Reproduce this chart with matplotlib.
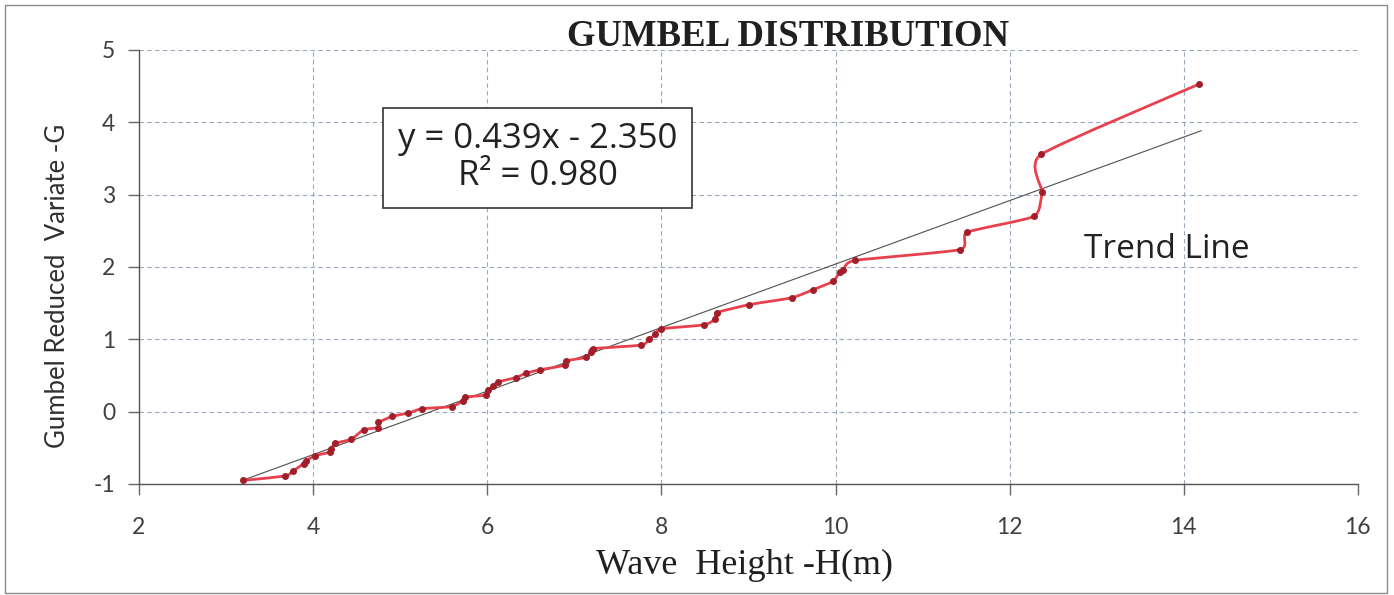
import numpy as np
import matplotlib
matplotlib.use("Agg")
import matplotlib.pyplot as plt
from matplotlib.path import Path
from matplotlib.patches import PathPatch, Rectangle

plt.rcParams["axes.unicode_minus"] = False

# wave heights (m) against Gumbel reduced variate
wave_height = [3.20, 3.68, 3.77, 3.89, 3.92, 4.02, 4.19, 4.21, 4.25, 4.44,
               4.58, 4.75, 4.75, 4.91, 5.09, 5.25, 5.59, 5.72, 5.74, 5.99,
               6.01, 6.07, 6.12, 6.33, 6.44, 6.61, 6.89, 6.90, 7.13, 7.19,
               7.21, 7.77, 7.86, 7.93, 8.00, 8.49, 8.62, 8.64, 9.01, 9.50,
               9.74, 9.97, 10.05, 10.09, 10.22, 11.43, 11.51, 12.28, 12.37,
               12.36, 14.18]
reduced_variate = [-0.95, -0.89, -0.82, -0.72, -0.68, -0.61, -0.56, -0.51, -0.44, -0.38,
                   -0.25, -0.22, -0.15, -0.065, -0.02, 0.04, 0.07, 0.15, 0.20, 0.23,
                   0.30, 0.35, 0.41, 0.47, 0.53, 0.58, 0.64, 0.70, 0.75, 0.82,
                   0.87, 0.92, 1.00, 1.07, 1.145, 1.20, 1.28, 1.37, 1.48, 1.575,
                   1.685, 1.80, 1.93, 1.96, 2.09, 2.24, 2.48, 2.70, 3.04,
                   3.555, 4.53]

slope, intercept, r2 = 0.439, -2.350, 0.980
trend_x = [3.2, 14.2]

xticks = [2, 4, 6, 8, 10, 12, 14, 16]
yticks = [-1, 0, 1, 2, 3, 4, 5]

sans = ["Lato", "DejaVu Sans"]
wide_sans = ["Open Sans", "DejaVu Sans"]
serif = ["Liberation Serif", "DejaVu Serif"]


def smooth_path(xs, ys, k=0.09):
    # cardinal spline through the points, drawn as cubic bezier segments
    pts = np.column_stack([xs, ys])
    pts = np.vstack([pts[0], pts, pts[-1]])
    verts = [pts[1]]
    codes = [Path.MOVETO]
    for i in range(1, len(pts) - 2):
        p0, p1, p2, p3 = pts[i - 1], pts[i], pts[i + 1], pts[i + 2]
        verts += [p1 + (p2 - p0) * k, p2 - (p3 - p1) * k, p2]
        codes += [Path.CURVE4] * 3
    return Path(verts, codes)


fig = plt.figure(figsize=(13.94, 5.95), dpi=100)
fig.patches.append(Rectangle((5 / 1394, 2 / 595), 1382 / 1394, 588 / 595,
                             transform=fig.transFigure, fill=False,
                             edgecolor="#8a8a8a", lw=1.0))

ax = fig.add_axes([0.0997, 0.1866, 0.8744, 0.7294])
ax.set_xlim(2, 16)
ax.set_ylim(-1, 5)
ax.set_xticks(xticks)
ax.set_yticks(yticks)

ax.grid(True, color="#9aa8bc", linestyle=(0, (4, 3)), lw=0.8)
ax.set_axisbelow(True)
for side in ["top", "right"]:
    ax.spines[side].set_visible(False)
for side in ["left", "bottom"]:
    ax.spines[side].set_color("#555555")
    ax.spines[side].set_linewidth(1.0)
ax.tick_params(direction="out", length=8, width=1, color="#666666",
               labelcolor="#404040", labelsize=16.5)
ax.tick_params(axis="x", pad=16)
ax.tick_params(axis="y", pad=9)
for lab in ax.get_xticklabels() + ax.get_yticklabels():
    lab.set_family(sans)

# regression line
trend_y = [slope * x + intercept for x in trend_x]
ax.plot(trend_x, trend_y, color="#505050", lw=0.8, zorder=3)

# observed data, smoothed line with markers
ax.add_patch(PathPatch(smooth_path(wave_height, reduced_variate), fill=False,
                       edgecolor="#e8414e", lw=2.0, zorder=4))
ax.plot(wave_height, reduced_variate, "o", color="#a01f2a", ms=4, zorder=5)

ax.text(6.58, 3.51, "y = %.3fx - %.3f\nR² = %.3f" % (slope, -intercept, r2),
        family=wide_sans, fontsize=25, color="#222222", ha="center", va="center",
        linespacing=1.1,
        bbox=dict(boxstyle="square,pad=0.42", fc="white", ec="#333333", lw=1.2))
ax.text(13.81, 2.24, "Trend Line", family=wide_sans, fontsize=24, color="#222222",
        ha="center", va="center")

fig.text(0.565, 0.938, "GUMBEL DISTRIBUTION", family=serif, fontsize=26.5,
         fontweight="bold", color="#202020", ha="center", va="center")
fig.text(0.534, 0.05, "Wave  Height -H(m)", family=serif, fontsize=26,
         color="#202020", ha="center", va="center")
fig.text(0.041, 0.519, "Gumbel Reduced  Variate -G", family=sans, fontsize=18.5,
         color="#303030", ha="center", va="center", rotation=90)

fig.savefig("out.png", dpi=100, facecolor="white")
